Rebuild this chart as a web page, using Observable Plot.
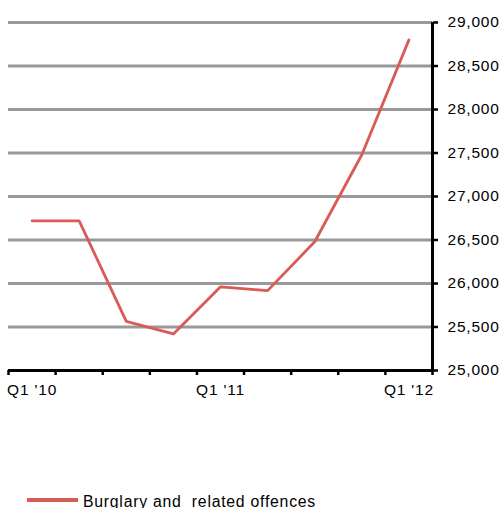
<!DOCTYPE html>
<html>
<head>
<meta charset="utf-8">
<script src="https://cdn.jsdelivr.net/npm/d3@7"></script>
<script src="https://cdn.jsdelivr.net/npm/@observablehq/plot@0.6"></script>
<style>
  body { margin: 0; background: #fff; font-family: "Liberation Sans", Arial, sans-serif; }
  #wrap { position: relative; width: 502px; height: 508px; overflow: hidden; }
  #legend .sw { position: absolute; left: 27px; top: 498px; width: 51px; height: 3.5px; background: #d95b56; }
  #legend .lb { position: absolute; left: 83px; top: 493px; font-size: 15.8px; letter-spacing: 0.75px; line-height: 18px; color: #000; white-space: pre; }
  svg text { letter-spacing: 0.8px; }
</style>
</head>
<body>
<div id="wrap">
  <div id="chart"></div>
  <div id="legend"><span class="sw"></span><span class="lb">Burglary and  related offences</span></div>
</div>
<script>
const quarters = ["Q1 '10", "Q2 '10", "Q3 '10", "Q4 '10", "Q1 '11", "Q2 '11", "Q3 '11", "Q4 '11", "Q1 '12"];
const burglary = [26720, 26720, 25565, 25420, 25962, 25918, 26480, 27480, 28800];
const yTicks = [25000, 25500, 26000, 26500, 27000, 27500, 28000, 28500, 29000];
const labelIdx = [0, 4, 8];
const tickEdges = d3.range(-0.5, quarters.length, 1);

const data = quarters.map((q, i) => ({i, q, v: burglary[i]}));

const chart = Plot.plot({
  width: 502,
  height: 470,
  marginTop: 22,
  marginBottom: 100,
  marginLeft: 8,
  marginRight: 70,
  style: {fontFamily: "'Liberation Sans', Arial, sans-serif", background: "#fff", overflow: "visible"},
  x: {type: "linear", domain: [-0.5, quarters.length - 0.5], label: null},
  y: {type: "linear", domain: [25000, 29000], label: null},
  marks: [
    Plot.ruleY(yTicks.slice(1), {stroke: "#999", strokeWidth: 3}),
    Plot.line(data, {x: "i", y: "v", stroke: "#d95b56", strokeWidth: 2.8}),
    Plot.ruleY([25000], {stroke: "#000", strokeWidth: 3}),
    Plot.ruleX([quarters.length - 0.5], {stroke: "#000", strokeWidth: 3}),
    Plot.axisX(tickEdges, {tickSize: 5, tickFormat: () => "", stroke: "#000", strokeWidth: 2.5, label: null}),
    Plot.axisX(labelIdx, {tickSize: 0, tickPadding: 13, tickFormat: i => quarters[i], fontSize: 15.5, fill: "#000", label: null}),
    Plot.axisY(yTicks, {anchor: "right", tickSize: 5, tickPadding: 10, tickFormat: d3.format(","), fontSize: 15.5, fill: "#000", stroke: "#000", strokeWidth: 2.5, label: null})
  ]
});
document.getElementById("chart").appendChild(chart);
</script>
</body>
</html>
